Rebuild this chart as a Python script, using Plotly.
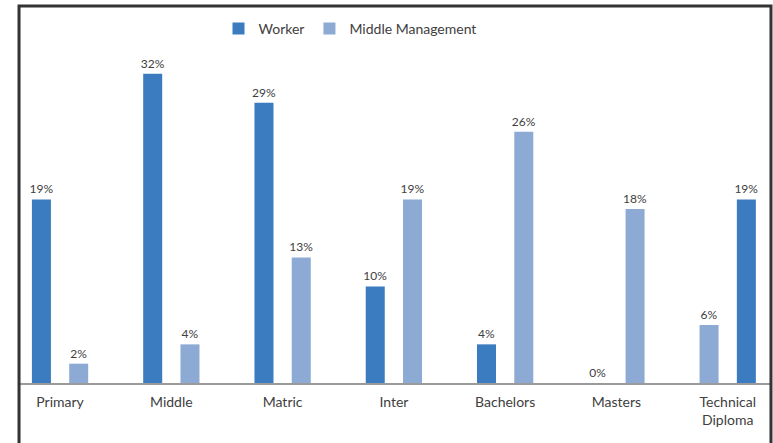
import plotly.graph_objects as go

categories = ["Primary", "Middle", "Matric", "Inter", "Bachelors", "Masters", "Technical<br>Diploma"]
# bars as drawn, left bar and right bar in each group
left_values = [19, 32, 29, 10, 4, 0, 6]
right_values = [2, 4, 13, 19, 26, 18, 19]
left_series = ["Worker", "Worker", "Worker", "Worker", "Worker", "Worker", "Middle Management"]
right_series = ["Middle Management"] * 6 + ["Worker"]

DARK = "#3A7CBF"
LIGHT = "#8DAAD5"
colour_of = {"Worker": DARK, "Middle Management": LIGHT}

label_font = dict(family="Lato, Noto Sans", size=12, color="#404040")

fig = go.Figure()
fig.add_trace(go.Bar(
    x=categories, y=left_values, name="Worker",
    marker=dict(color=[colour_of[s] for s in left_series], line=dict(width=0)),
    texttemplate="%{y}%", textposition="outside", cliponaxis=False,
    constraintext="none", textfont=label_font,
))
fig.add_trace(go.Bar(
    x=categories, y=right_values, name="Middle Management",
    marker=dict(color=[colour_of[s] for s in right_series], line=dict(width=0)),
    texttemplate="%{y}%", textposition="outside", cliponaxis=False,
    constraintext="none", textfont=label_font,
))

fig.update_layout(
    width=773, height=443,
    margin=dict(l=20, r=3, t=40, b=60),
    paper_bgcolor="white", plot_bgcolor="white",
    barmode="group", bargap=0.33, bargroupgap=0.49,
    font=dict(family="Lato, Noto Sans", size=13, color="#404040"),
    legend=dict(orientation="h", x=0.44, xanchor="center", y=1.032, yanchor="middle",
                font=dict(size=14, color="#404040"), tracegroupgap=0,
                bgcolor="rgba(0,0,0,0)"),
    xaxis=dict(range=[-0.36, 6.38], showgrid=False, showline=True, linecolor="#9a9a9a",
               linewidth=2, ticks="outside", ticklen=5, tickcolor="rgba(0,0,0,0)",
               tickfont=dict(size=14, color="#404040"), zeroline=False),
    yaxis=dict(range=[0, 35.5], visible=False, showgrid=False, zeroline=False),
    showlegend=True,
)

# frame around the chart (left, top, right sides)
fig.add_shape(type="path", xref="paper", yref="paper",
              path="M -0.0013,-0.3 L -0.0013,1.099 L 1.0013,1.099 L 1.0013,-0.3",
              line=dict(color="#333333", width=3))

fig.write_html("out.html")
